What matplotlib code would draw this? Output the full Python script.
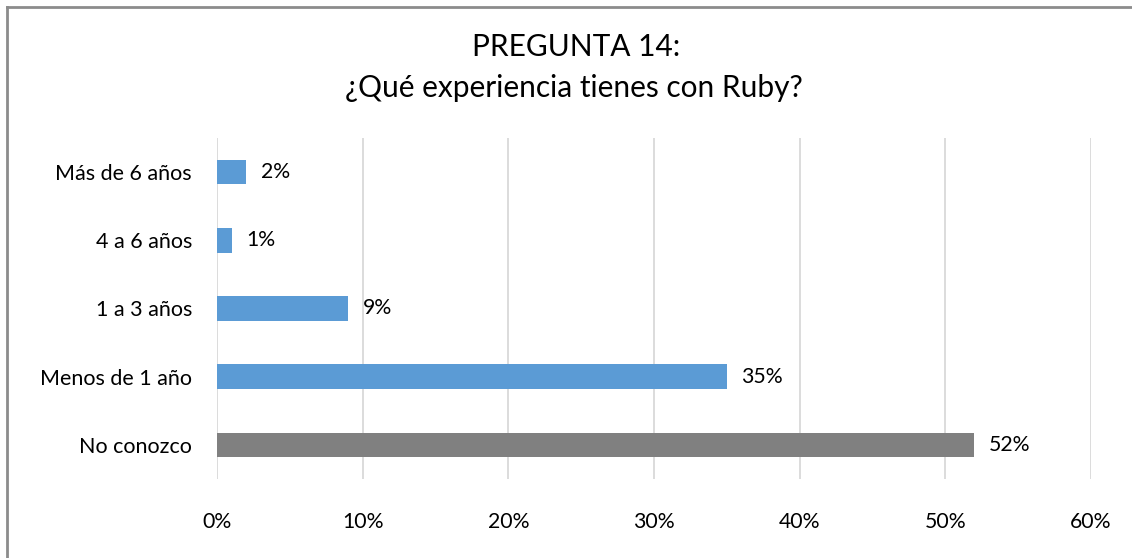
import matplotlib.pyplot as plt
from matplotlib.lines import Line2D

# data (bottom to top, as drawn)
categories = ['No conozco', 'Menos de 1 año', '1 a 3 años', '4 a 6 años', 'Más de 6 años']
values = [52, 35, 9, 1, 2]
colors = ['#808080', '#5B9BD5', '#5B9BD5', '#5B9BD5', '#5B9BD5']
xticks = [0, 10, 20, 30, 40, 50, 60]

plt.rcParams['font.family'] = ['Lato', 'DejaVu Sans']

fig = plt.figure(figsize=(11.32, 5.58), dpi=100)
ax = fig.add_axes([217/1132, 1 - 479/558, (1091 - 217)/1132, (479 - 138)/558])

ypos = range(len(categories))
ax.barh(ypos, values, height=0.36, color=colors, zorder=3)
for y, v in zip(ypos, values):
    ax.text(v + 1.0, y, '{}%'.format(v), va='center', ha='left', fontsize=15.3, color='#000000')

ax.set_xlim(0, 60)
ax.set_ylim(-0.5, len(categories) - 0.5)
ax.set_xticks(xticks)
ax.set_xticklabels(['{}%'.format(t) for t in xticks])
ax.set_yticks(list(ypos))
ax.set_yticklabels(categories)
ax.tick_params(axis='x', length=0, pad=24, labelsize=15.3)
ax.tick_params(axis='y', length=0, pad=18, labelsize=15.5)
ax.grid(axis='x', color='#D9D9D9', linewidth=1.3, zorder=0)
for s in ax.spines.values():
    s.set_visible(False)

fig.text(576/1132, 1 - 47/558, 'PREGUNTA 14:', ha='center', va='center', fontsize=21.5)
fig.text(574/1132, 1 - 88/558, '¿Qué experiencia tienes con Ruby?', ha='center', va='center', fontsize=21.5)

# chart frame: only the left and top edges are visible
fig.lines.append(Line2D([7/1132, 7/1132], [0, 1 - 7/558], transform=fig.transFigure,
                        color='#8C8C8C', linewidth=2))
fig.lines.append(Line2D([7/1132, 1], [1 - 7/558, 1 - 7/558], transform=fig.transFigure,
                        color='#8C8C8C', linewidth=2))

fig.savefig('out.png', dpi=100)
